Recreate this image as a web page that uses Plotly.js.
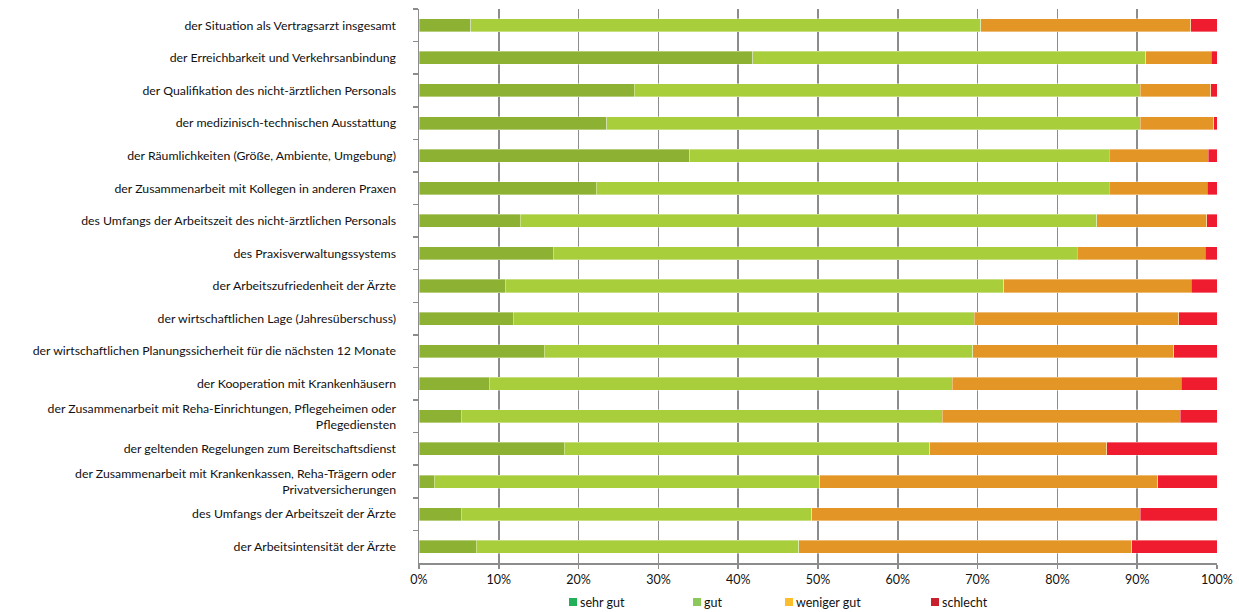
<!DOCTYPE html>
<html><head><meta charset="utf-8">
<script src="https://cdn.plot.ly/plotly-3.0.1.min.js"></script>
<style>html,body{margin:0;padding:0;background:#fff}#chart{width:1239px;height:612px}</style>
</head><body><div id="chart"></div>
<script>
const categories = [
  "der Situation als Vertragsarzt insgesamt",
  "der Erreichbarkeit und Verkehrsanbindung",
  "der Qualifikation des nicht-ärztlichen Personals",
  "der medizinisch-technischen Ausstattung",
  "der Räumlichkeiten (Größe, Ambiente, Umgebung)",
  "der Zusammenarbeit mit Kollegen in anderen Praxen",
  "des Umfangs der Arbeitszeit des nicht-ärztlichen Personals",
  "des Praxisverwaltungssystems",
  "der Arbeitszufriedenheit der Ärzte",
  "der wirtschaftlichen Lage (Jahresüberschuss)",
  "der wirtschaftlichen Planungssicherheit für die nächsten 12 Monate",
  "der Kooperation mit Krankenhäusern",
  "der Zusammenarbeit mit Reha-Einrichtungen, Pflegeheimen oder<br>Pflegediensten",
  "der geltenden Regelungen zum Bereitschaftsdienst",
  "der Zusammenarbeit mit Krankenkassen, Reha-Trägern oder<br>Privatversicherungen",
  "des Umfangs der Arbeitszeit der Ärzte",
  "der Arbeitsintensität der Ärzte"
];
const seriesNames = ["sehr gut", "gut", "weniger gut", "schlecht"];
const sehrGut    = [6.5, 41.8, 27.0, 23.5, 33.9, 22.2, 12.7, 16.8, 10.8, 11.8, 15.7, 8.8, 5.3, 18.2, 1.9, 5.3, 7.2];
const gut        = [63.9, 49.3, 63.4, 66.9, 52.6, 64.3, 72.2, 65.7, 62.5, 57.8, 53.7, 58.0, 60.3, 45.8, 48.3, 43.9, 40.4];
const wenigerGut = [26.3, 8.2, 8.8, 9.2, 12.4, 12.3, 13.8, 16.0, 23.5, 25.6, 25.2, 28.7, 29.8, 22.2, 42.4, 41.2, 41.7];
const schlecht   = [3.3, 0.7, 0.8, 0.4, 1.1, 1.2, 1.3, 1.5, 3.2, 4.8, 5.4, 4.5, 4.6, 13.8, 7.4, 9.6, 10.7];
const xTickVals = [0,10,20,30,40,50,60,70,80,90,100];
const xTickText = ["0%","10%","20%","30%","40%","50%","60%","70%","80%","90%","100%"];

const barColors = ["#8db233", "#a8ce3b", "#e39526", "#ee1c2e"];
const legendColors = ["#22b05a", "#8cc85a", "#fdbe2b", "#c8202c"];
const legendX = [569, 693, 785, 931];

const values = [sehrGut, gut, wenigerGut, schlecht];
const traces = values.map((v, i) => ({
  type: 'bar', orientation: 'h', name: seriesNames[i],
  x: v, y: categories,
  marker: {color: barColors[i], line: {color: 'rgba(255,255,255,0.6)', width: 0.6}},
  showlegend: false, hoverinfo: 'x+name'
}));

const FONT = 'Lato, Open Sans, sans-serif';
const L = 419, R = 1217, W = 1239, H = 612, T = 9, B = 563;
const pw = R - L;
const shapes = [], annotations = [];
legendX.forEach((px, i) => {
  shapes.push({type: 'rect', xref: 'paper', yref: 'paper',
    x0: (px - L) / pw, x1: (px + 8 - L) / pw,
    y0: -(598 + 8 - B) / (B - T), y1: -(598 - B) / (B - T),
    fillcolor: legendColors[i], line: {width: 0}});
  annotations.push({xref: 'paper', yref: 'paper', x: (px + 9 - L) / pw, y: -(602 - B) / (B - T),
    xanchor: 'left', yanchor: 'middle', showarrow: false, text: seriesNames[i],
    font: {family: FONT, size: 12.5, color: '#111'}});
});

const layout = {
  width: W, height: H,
  margin: {l: L, r: W - R, t: T, b: H - B, pad: 0},
  barmode: 'stack', bargap: 0.6,
  paper_bgcolor: '#fff', plot_bgcolor: '#fff',
  font: {family: FONT, size: 12.3, color: '#111'},
  xaxis: {range: [0, 100], tickvals: xTickVals, ticktext: xTickText,
    showgrid: true, gridcolor: '#8c8c8c', gridwidth: 1.5,
    ticks: 'outside', ticklen: 4, tickcolor: '#8c8c8c', tickwidth: 1.5,
    showline: true, linecolor: '#8c8c8c', linewidth: 1.5, zeroline: false,
    tickfont: {size: 12.5, color: '#111'}, fixedrange: true},
  yaxis: {autorange: 'reversed', type: 'category', tickson: 'boundaries',
    ticks: 'outside', ticklen: 5, tickcolor: '#8c8c8c', tickwidth: 1.5,
    showline: true, linecolor: '#8c8c8c', linewidth: 1.5, showgrid: false,
    ticklabelstandoff: 19,
    tickfont: {size: 12.3, color: '#111'}, fixedrange: true},
  shapes: shapes, annotations: annotations
};
Plotly.newPlot('chart', traces, layout, {displayModeBar: false, staticPlot: true});
</script></body></html>
